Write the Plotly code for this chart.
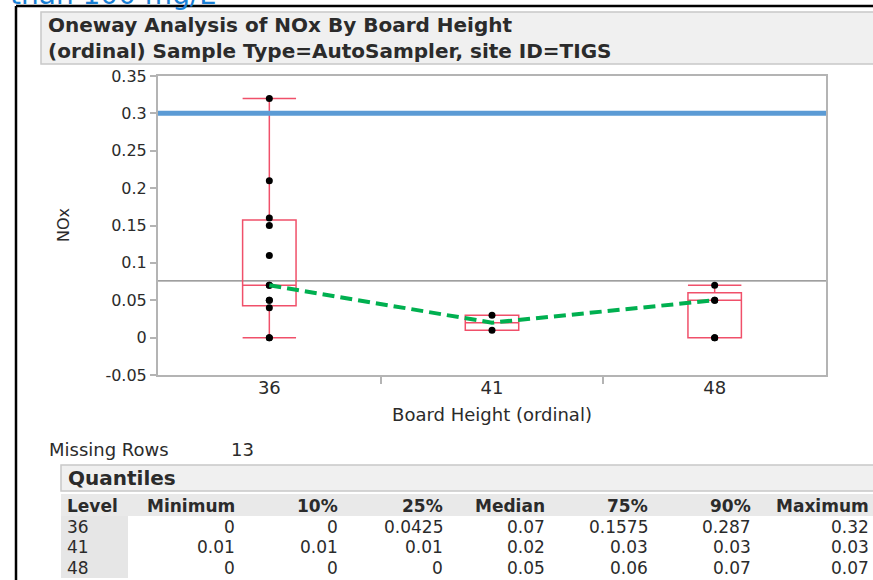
import plotly.graph_objects as go

# ---- data -------------------------------------------------------------
levels = ["36", "41", "48"]
nox_36 = [0, 0, 0.04, 0.05, 0.05, 0.07, 0.07, 0.11, 0.15, 0.16, 0.21, 0.32]
nox_41 = [0.01, 0.03]
nox_48 = [0, 0, 0.05, 0.05, 0.07]

q_min = [0, 0.01, 0]
q_10 = [0, 0.01, 0]
q_25 = [0.0425, 0.01, 0]
q_med = [0.07, 0.02, 0.05]
q_75 = [0.1575, 0.03, 0.06]
q_90 = [0.287, 0.03, 0.07]
q_max = [0.32, 0.03, 0.07]

limit_value = 0.3
missing_rows = 13

y_tickvals = [-0.05, 0, 0.05, 0.1, 0.15, 0.2, 0.25, 0.3, 0.35]
y_ticktext = ["-0.05", "0", "0.05", "0.1", "0.15", "0.2", "0.25", "0.3", "0.35"]

groups = [nox_36, nox_41, nox_48]
all_values = [v for g in groups for v in g]
grand_mean = sum(all_values) / len(all_values)

# ---- page geometry (pixels) --------------------------------------------
FIG_W, FIG_H = 873, 580
L, R, T, B = 158, 826, 76, 375
PW, PH = R - L, B - T


def xp(px):
    return (px - L) / PW


def yp(py):
    return (B - py) / PH


FONT = "DejaVu Sans"
TXT = "#2b2b2b"
BOX_RED = "#f0506a"

fig = go.Figure()

# box plots built from the quantile table
fig.add_trace(go.Box(
    x=[0, 1, 2],
    q1=q_25, median=q_med, q3=q_75,
    lowerfence=q_min, upperfence=q_max,
    width=0.24, whiskerwidth=1,
    fillcolor="rgba(0,0,0,0)",
    line=dict(color=BOX_RED, width=1.5),
    boxpoints=False, hoverinfo="skip", showlegend=False,
))

# raw observations
for i, g in enumerate(groups):
    fig.add_trace(go.Scatter(
        x=[i] * len(g), y=g, mode="markers",
        marker=dict(color="black", size=7),
        showlegend=False, hoverinfo="skip",
    ))

# dashed line through the medians
fig.add_trace(go.Scatter(
    x=[0, 1, 2], y=q_med, mode="lines",
    line=dict(color="#00b050", width=4, dash="12px,6px"),
    showlegend=False, hoverinfo="skip",
))

# grand mean and limit lines
fig.add_shape(type="line", xref="paper", yref="y", x0=0, x1=1,
              y0=grand_mean, y1=grand_mean,
              line=dict(color="#7f7f7f", width=1.3), layer="below")
fig.add_shape(type="line", xref="paper", yref="y", x0=0, x1=1,
              y0=limit_value, y1=limit_value,
              line=dict(color="#5b9bd5", width=5))

shapes = []
annotations = []


def label(text, x, y, size, anchor="left", bold=False, color=TXT, angle=0):
    annotations.append(dict(
        text=f"<b>{text}</b>" if bold else text,
        xref="paper", yref="paper", x=xp(x), y=yp(y),
        xanchor=anchor, yanchor="middle", showarrow=False, textangle=angle,
        font=dict(family=FONT, size=size, color=color)))


# outer frame
shapes.append(dict(type="line", xref="paper", yref="paper",
                   x0=xp(16), x1=xp(880), y0=yp(6), y1=yp(6),
                   line=dict(color="black", width=2.5)))
shapes.append(dict(type="line", xref="paper", yref="paper",
                   x0=xp(16), x1=xp(16), y0=yp(6), y1=yp(590),
                   line=dict(color="black", width=2.5)))

# title header
shapes.append(dict(type="rect", xref="paper", yref="paper",
                   x0=xp(41), x1=xp(885), y0=yp(12), y1=yp(64),
                   fillcolor="#f0f0f0", line=dict(color="#c8c8c8", width=1.5)))
label("Oneway Analysis of NOx By Board Height", 46, 25, 20, bold=True)
label("(ordinal) Sample Type=AutoSampler, site ID=TIGS", 46, 51, 20, bold=True)

# slide heading text running off the top edge
label("than 100 mg/L", 217, -5, 28, anchor="right", color="#1a7fd4")

# y axis title
label("NOx", 63, 225, 16, anchor="center", angle=-90)

# missing rows
label("Missing Rows", 47, 449, 18)
label(str(missing_rows), 229, 449, 18)

# quantiles table
shapes.append(dict(type="rect", xref="paper", yref="paper",
                   x0=xp(61), x1=xp(885), y0=yp(465), y1=yp(491),
                   fillcolor="#f0f0f0", line=dict(color="#c8c8c8", width=1.5)))
label("Quantiles", 66, 478, 20, bold=True)
shapes.append(dict(type="rect", xref="paper", yref="paper",
                   x0=xp(61), x1=xp(885), y0=yp(494), y1=yp(516),
                   fillcolor="#e9e9e9", line=dict(width=0)))
shapes.append(dict(type="rect", xref="paper", yref="paper",
                   x0=xp(61), x1=xp(128), y0=yp(516), y1=yp(578),
                   fillcolor="#e6e6e6", line=dict(width=0)))

headers = ["Minimum", "10%", "25%", "Median", "75%", "90%", "Maximum"]
col_right = [237, 340, 445, 547, 650, 753, 871]
columns = [q_min, q_10, q_25, q_med, q_75, q_90, q_max]
row_y = [527, 547, 568]
head_y = 506

label("Level", 65, head_y, 17, bold=True)
for h, xr in zip(headers, col_right):
    label(h, xr, head_y, 17, anchor="right", bold=True)
for r, lev in enumerate(levels):
    label(lev, 65, row_y[r], 17)
    for col, xr in zip(columns, col_right):
        label(f"{col[r]:g}", xr, row_y[r], 17, anchor="right")

for s in shapes:
    fig.add_shape(**s)

fig.update_layout(
    width=FIG_W, height=FIG_H,
    margin=dict(l=L, r=FIG_W - R, t=T, b=FIG_H - B, pad=0),
    paper_bgcolor="white", plot_bgcolor="white",
    annotations=annotations,
    showlegend=False,
    xaxis=dict(
        range=[-0.5, 2.5], tickvals=[0, 1, 2], ticktext=levels,
        ticks="", showgrid=False, zeroline=False, ticklabelstandoff=-5,
        showline=True, mirror=True, linecolor="#b4b4b4", linewidth=2,
        tickfont=dict(family=FONT, size=18, color=TXT),
        minor=dict(tickvals=[0.5, 1.5], ticks="outside", ticklen=7,
                   tickcolor="#b4b4b4", tickwidth=2),
        title=dict(text="Board Height (ordinal)", standoff=12,
                   font=dict(family=FONT, size=18, color=TXT)),
    ),
    yaxis=dict(
        range=[-0.05, 0.35], tickvals=y_tickvals, ticktext=y_ticktext,
        ticks="outside", ticklen=6, tickcolor="#b4b4b4", tickwidth=1.5,
        showgrid=False, zeroline=False,
        showline=True, mirror=True, linecolor="#b4b4b4", linewidth=2,
        tickfont=dict(family=FONT, size=16, color=TXT),
    ),
)

fig.write_html("out.html")
